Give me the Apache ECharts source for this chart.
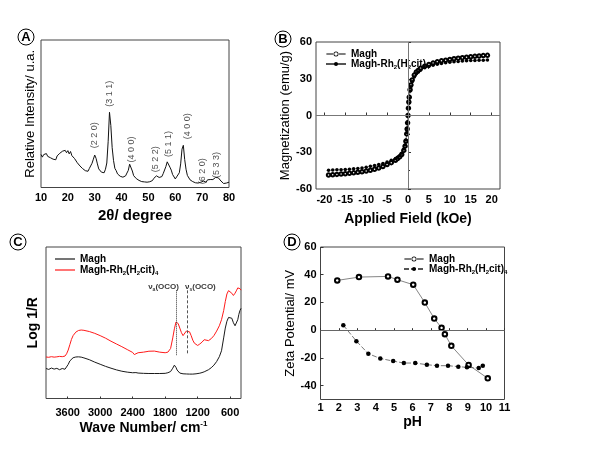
<!DOCTYPE html>
<html><head><meta charset="utf-8">
<script src="https://cdn.jsdelivr.net/npm/echarts@6/dist/echarts.min.js"></script>
<style>html,body{margin:0;padding:0;background:#fff}#c{width:600px;height:450px}</style>
</head><body><div id="c"></div><script>
// ---------- Panel A: XRD ----------
const xrdAngle = [10,10.5,11,11.5,12,12.5,13,13.5,14,14.5,15,15.5,16,16.5,17,17.5,18,18.5,19,19.5,20,20.5,21,21.5,22,22.5,23,23.5,24,24.5,25,25.5,26,26.5,27,27.5,28,28.5,29,29.5,30,30.5,31,31.5,32,32.5,33,33.5,34,34.5,35,35.5,36,36.5,37,37.5,38,38.5,39,39.5,40,40.5,41,41.5,42,42.5,43,43.5,44,44.5,45,45.5,46,46.5,47,47.5,48,48.5,49,49.5,50,50.5,51,51.5,52,52.5,53,53.5,54,54.5,55,55.5,56,56.5,57,57.5,58,58.5,59,59.5,60,60.5,61,61.5,62,62.5,63,63.5,64,64.5,65,65.5,66,66.5,67,67.5,68,68.5,69,69.5,70,70.5,71,71.5,72,72.5,73,73.5,74,74.5,75,75.5,76,76.5,77,77.5,78,78.5,79,79.5,80];
const xrdIntensity = [22.4,20.6,22.3,21.2,23,21.1,22.4,20.2,21.4,19.2,20.4,18.8,21.4,20.6,23.2,22,24.6,23.4,25.2,23.6,25,22.8,24.4,21.6,22.2,19.6,19.6,16.8,16.6,14.6,14.9,12.8,13.2,11.4,11.8,11,12.9,13.2,16.4,19.2,22,19.8,16,12.6,12.4,10.4,10.8,10,12.4,16.6,31,51,42,27,18.4,13,11.4,9.2,9.2,7.6,7.8,7,7.8,7.9,9.8,11.6,15.8,14.6,11.2,8,7.6,6,6,4.8,5.2,4,4.6,3.8,4.9,3.6,4.6,3.9,5.2,4.7,6.2,6.4,7.9,8.4,6.8,7.8,7.4,9.4,10.6,14.2,17.4,17.8,13.8,11.8,8.8,7.8,5.8,7.2,7,10,16,26,28.6,19,12.4,8.2,7,5.2,5.2,4,4.4,3.2,3.8,3,4.2,3.6,4.8,4.3,5,3.6,5.2,4.6,5.4,4.2,5.4,5.2,6.8,7.4,6.6,5.9,4.4,4.1,2.7,3.6,3,4.2,3.6,4.9,4.4,5.2];
const xrdPeakLabels = ['(2 2 0)','(3 1 1)','(4 0 0)','(5 2 2)','(5 1 1)','(4 0 0)','(6 2 0)','(5 3 3)'];
const xrdPeakPos = [30.0,35.6,43.7,52.5,57.3,64.7,70.0,75.3];
const xrdLabelY = [35.5,63.5,25.8,19.2,29.5,41.5,11,15.3];

// ---------- Panel B: magnetization ----------
const bField = [-19,-18,-17,-16,-15,-14,-13,-12,-11,-10,-9,-8,-7,-6,-5,-4,-3,-2.5,-2,-1.5,-1,-0.7,-0.5,-0.3,-0.2,-0.1,0,0.1,0.2,0.3,0.5,0.7,1,1.5,2,2.5,3,4,5,6,7,8,9,10,11,12,13,14,15,16,17,18,19];
const bMagh = [-48.6,-48.4,-48.1,-47.8,-47.5,-47.1,-46.8,-46.3,-45.9,-45.4,-44.7,-43.9,-42.9,-41.6,-40,-38.5,-36.5,-35.2,-33.8,-31.8,-28.5,-25,-21,-15,-11,-6,0,6,11,15,21,25,29,33,35.5,37,38.5,40.3,41.6,42.8,43.8,44.6,45.2,45.7,46.3,46.8,47.2,47.6,48,48.3,48.6,48.9,49.1];
const bRh = [-44.6,-44.5,-44.3,-44.2,-44,-43.8,-43.5,-43.2,-42.8,-42.2,-41.5,-40.8,-40,-39.1,-38,-36.5,-35,-34,-32.8,-30.8,-27.4,-24,-20,-14,-10.4,-5.5,0,5.5,10,14,20,23.5,27.5,31.5,34,35.5,37,39,40.1,41.1,41.9,42.5,43,43.4,43.8,44.1,44.4,44.6,44.8,45,45.1,45.2,45.3];
const bTicks = [-20,-15,-10,-5,0,5,10,15,20];

// ---------- Panel C: DRIFT spectra ----------
const cWave = [4000,3950,3900,3850,3800,3750,3700,3650,3620,3590,3560,3530,3500,3450,3400,3350,3300,3200,3100,3000,2900,2800,2700,2600,2500,2400,2370,2340,2300,2200,2100,2000,1900,1800,1750,1700,1660,1630,1600,1580,1560,1530,1500,1470,1440,1410,1380,1350,1320,1290,1260,1230,1200,1160,1120,1080,1050,1000,950,900,850,800,760,720,690,660,630,600,570,540,510,480,460,440,420,400];
const cMagh = [19.8,19.2,20.1,19.4,19.9,19.0,19.8,19.3,20.6,22.5,24.8,26.0,26.9,27.4,27.5,27.3,26.8,25.6,24.0,22.6,21.2,20.0,18.9,18.0,17.4,17.0,17.5,17.1,16.8,16.6,16.5,16.5,16.5,16.6,17.0,17.8,20.0,22.0,20.5,18.8,17.6,16.8,16.5,16.3,16.5,16.2,16.4,16.1,16.0,16.1,16.2,16.3,16.4,16.7,17.1,17.6,18.1,19.0,20.3,22.0,24.4,27.6,31.5,40.0,46.5,51.0,53.5,54.5,53.0,50.0,48.0,49.0,52.0,55.5,58.0,59.5];
const cMaghRh = [27.4,27.2,27.6,27.3,27.5,27.8,27.6,28.0,29.5,32.0,35.5,39.0,41.5,43.8,44.9,45.2,45.0,44.2,43.0,41.5,39.8,37.8,36.0,34.2,32.3,30.4,29.0,29.6,30.2,30.6,31.2,31.3,30.6,30.2,30.6,33.0,40.0,46.0,50.5,51.5,49.5,46.5,43.5,41.5,42.5,44.5,45.0,44.0,41.5,38.5,36.5,35.3,35.0,36.0,37.2,38.8,37.8,38.2,39.5,41.5,44.5,48.0,52.0,58.0,64.0,69.0,71.2,71.0,69.5,68.0,69.5,71.5,73.0,74.0,72.5,71.5];
const cTicks = [600,1200,1800,2400,3000,3600];
const cBandPos = [1590,1390];
const cBandText = ['ν{s|a}(OCO)','ν{s|s}(OCO)'];
const cBandTop = 71.4, cBandBottom = 28.6;
const cBandLabelPos = [1830,1150];
const cBandLabelY = 73.8;

// ---------- Panel D: zeta potential ----------
const dMaghPH = [1.91,3.09,4.67,5.18,6.04,6.67,7.18,7.58,7.76,8.11,9.05,10.09];
const dMaghZeta = [35.9,38.3,38.8,36.4,32.8,19.9,8.4,1.7,-2.9,-11.3,-25.1,-34.7];
const dRhPH = [2.24,2.95,3.6,4.25,4.95,5.53,6.15,6.78,7.33,7.93,8.49,8.96,9.6,9.82];
const dRhZeta = [3.6,-7.9,-17,-20.4,-22.3,-23.7,-23.7,-24.9,-25.6,-25.6,-26.3,-26.8,-27.3,-25.6];
const dYTicks = [-40,-20,0,20,40,60];

const legendNames = {
  B_Magh: '{n|Magh}', B_Rh: '{n|Magh-Rh}{s|2}{n|(H}{s|2}{n|cit)}{s|4}',
  C_Magh: '{n|Magh}', C_Rh: '{n|Magh-Rh}{s|2}{n|(H}{s|2}{n|cit)}{s|4}',
  D_Magh: '{n|Magh}', D_Rh: '{n|Magh-Rh}{s|2}{n|(H}{s|2}{n|cit)}{s|4}'
};

const FONT = 'Liberation Sans, Arial, sans-serif';
const zip = (a, b) => a.map((v, i) => [v, b[i]]);
const plain = v => String(v);

const tickLbl = (extra) => Object.assign({color:'#000', fontFamily: FONT, fontWeight:'bold', fontSize: 11, margin: 4, formatter: plain}, extra || {});
const nameStyle = (size, weight, extra) => Object.assign({color:'#000', fontFamily: FONT, fontSize: size, fontWeight: weight}, extra || {});
const tickIn = (extra) => Object.assign({show: true, inside: true, length: 3, lineStyle:{color:'#333'}}, extra || {});
const legendText = {color:'#000', fontFamily: FONT, fontWeight:'bold', fontSize: 10,
  rich: { n: {fontFamily: FONT, fontWeight:'bold', fontSize: 10, lineHeight: 13},
          s: {fontFamily: FONT, fontWeight:'bold', fontSize: 6, verticalAlign:'bottom', lineHeight: 13} }};
// legend icon: short line, open circle, short line
const openIcon = 'path://M0,2.6H6.9V3.4H0Z M13.1,2.6H20V3.4H13.1Z M12.6,3A2.6,2.6 0 1,0 7.4,3A2.6,2.6 0 1,0 12.6,3Z M11.8,3A1.8,1.8 0 1,1 8.2,3A1.8,1.8 0 1,1 11.8,3Z';
const openIconStyle = {color: '#000', borderWidth: 0, borderColor: 'transparent'};

const chart = echarts.init(document.getElementById('c'), null, {renderer:'canvas'});
const gridStyle = {show: true, borderColor: '#444', borderWidth: 1, backgroundColor: 'transparent', containLabel: false};

const option = {
  animation: false,
  backgroundColor: '#fff',
  grid: [
    Object.assign({left: 41, top: 40, width: 188, height: 147.5}, gridStyle),
    Object.assign({left: 316, top: 42, width: 184, height: 147}, gridStyle),
    Object.assign({left: 46, top: 247, width: 195, height: 151.5}, gridStyle),
    Object.assign({left: 320.5, top: 247, width: 184, height: 152.5}, gridStyle)
  ],
  xAxis: [
    {gridIndex: 0, type: 'value', min: 10, max: 80, interval: 10, axisLine:{show:false}, splitLine:{show:false},
     axisTick: {show: false}, axisLabel: tickLbl({margin: 5}),
     name: '2θ/ degree', nameLocation: 'middle', nameGap: 21, nameTextStyle: nameStyle(15, 'bold')},
    {gridIndex: 1, type: 'value', min: -22, max: 22, axisLine:{show:false}, splitLine:{show:false},
     axisTick: tickIn({customValues: bTicks}), axisLabel: tickLbl({customValues: bTicks, margin: 5}),
     name: 'Applied Field (kOe)', nameLocation: 'middle', nameGap: 23, nameTextStyle: nameStyle(14, 'bold')},
    {gridIndex: 2, type: 'value', min: 400, max: 4000, inverse: true, axisLine:{show:false}, splitLine:{show:false},
     axisTick: tickIn({customValues: cTicks, length: 2}), axisLabel: tickLbl({customValues: cTicks, margin: 9}),
     name: 'Wave Number/ cm{sup|-1}', nameLocation: 'middle', nameGap: 19,
     nameTextStyle: nameStyle(14, 'bold', {rich: {sup: {fontFamily: FONT, fontWeight:'bold', fontSize: 8, verticalAlign:'top', lineHeight: 18}}})},
    {gridIndex: 3, type: 'value', min: 1, max: 11, interval: 1, axisLine:{show:false}, splitLine:{show:false},
     axisTick: tickIn({length: 2}), axisLabel: tickLbl({margin: 3}),
     name: 'pH', nameLocation: 'middle', nameGap: 16, nameTextStyle: nameStyle(14, 'bold')}
  ],
  yAxis: [
    {gridIndex: 0, type: 'value', min: 0, max: 100, axisLine:{show:false}, splitLine:{show:false},
     axisTick:{show:false}, axisLabel:{show:false},
     name: 'Relative Intensity/ u.a.', nameLocation: 'middle', nameRotate: 90, nameGap: 4, nameTextStyle: nameStyle(13, 'normal')},
    {gridIndex: 1, type: 'value', min: -60, max: 60, interval: 30, axisLine:{show:false}, splitLine:{show:false},
     axisTick: tickIn(), minorTick: {show: true, splitNumber: 2, length: 2, lineStyle:{color:'#333'}}, axisLabel: tickLbl({margin: 4}),
     name: 'Magnetization (emu/g)', nameLocation: 'middle', nameRotate: 90, nameGap: 19, nameTextStyle: nameStyle(13, 'normal')},
    {gridIndex: 2, type: 'value', min: 0, max: 100, axisLine:{show:false}, splitLine:{show:false},
     axisTick:{show:false}, axisLabel:{show:false},
     name: 'Log 1/R', nameLocation: 'middle', nameRotate: 90, nameGap: 6, nameTextStyle: nameStyle(14, 'bold')},
    {gridIndex: 3, type: 'value', min: -50, max: 60, axisLine:{show:false}, splitLine:{show:false},
     axisTick: tickIn({customValues: dYTicks}), axisLabel: tickLbl({customValues: dYTicks, margin: 4}),
     name: 'Zeta Potential/ mV', nameLocation: 'middle', nameRotate: 90, nameGap: 23, nameTextStyle: nameStyle(13, 'normal')}
  ],
  legend: [
    {data: [{name: 'B_Magh', icon: openIcon, itemStyle: openIconStyle}, 'B_Rh'], orient: 'vertical', left: 320, top: 44, itemWidth: 20, itemHeight: 5, itemGap: 0,
     formatter: n => legendNames[n], textStyle: legendText, selectedMode: false},
    {data: ['C_Magh','C_Rh'], orient: 'vertical', left: 50, top: 249, itemWidth: 20, itemHeight: 1.2, itemGap: 1, icon: 'rect',
     formatter: n => legendNames[n], textStyle: legendText, selectedMode: false},
    {data: [{name: 'D_Magh', icon: openIcon, itemStyle: openIconStyle}, 'D_Rh'], orient: 'vertical', left: 398, top: 249, itemWidth: 20, itemHeight: 5, itemGap: 0,
     formatter: n => legendNames[n], textStyle: legendText, selectedMode: false}
  ],
  series: [
    {name: 'xrd', type: 'line', xAxisIndex: 0, yAxisIndex: 0, data: zip(xrdAngle, xrdIntensity),
     showSymbol: false, symbol: 'none', lineStyle: {color: '#111', width: 1}, silent: true},
    {name: 'xrdLabels', type: 'scatter', xAxisIndex: 0, yAxisIndex: 0, symbolSize: 0, silent: true, clip: false, z: 5,
     data: xrdPeakPos.map((x, i) => ({value: [x, xrdLabelY[i]], name: xrdPeakLabels[i]})),
     label: {show: true, position: 'inside', formatter: '{b}', rotate: 90, color: '#222', fontFamily: FONT, fontSize: 9}},

    {name: 'B_Magh', type: 'line', xAxisIndex: 1, yAxisIndex: 1, data: zip(bField, bMagh),
     symbol: 'emptyCircle', symbolSize: 3.5, lineStyle: {color: '#555', width: 0.5},
     itemStyle: {color: '#000', borderColor: '#000', borderWidth: 0.7},
     markLine: {silent: true, symbol: 'none', label: {show: false}, lineStyle: {color: '#777', type: 'solid', width: 1},
       data: [{yAxis: 0}, {xAxis: 0}]}},
    {name: 'B_Rh', type: 'line', xAxisIndex: 1, yAxisIndex: 1, data: zip(bField, bRh),
     symbol: 'circle', symbolSize: 3.5, lineStyle: {color: '#555', width: 0.5},
     itemStyle: {color: '#000'}},

    {name: 'C_Magh', type: 'line', xAxisIndex: 2, yAxisIndex: 2, data: zip(cWave, cMagh),
     symbol: 'none', lineStyle: {color: '#1a1a1a', width: 1}, itemStyle: {color: '#1a1a1a'}},
    {name: 'C_Rh', type: 'line', xAxisIndex: 2, yAxisIndex: 2, data: zip(cWave, cMaghRh),
     symbol: 'none', lineStyle: {color: '#ff1a1a', width: 1}, itemStyle: {color: '#ff1a1a'},
     markLine: {silent: true, symbol: 'none', label: {show: false},
       data: [
         [{coord: [cBandPos[0], cBandTop], lineStyle: {type: 'dotted', color: '#333', width: 1}}, {coord: [cBandPos[0], cBandBottom]}],
         [{coord: [cBandPos[1], cBandTop], lineStyle: {type: [3, 2], color: '#555', width: 1}}, {coord: [cBandPos[1], cBandBottom]}]
       ]}},
    {name: 'cLabels', type: 'scatter', xAxisIndex: 2, yAxisIndex: 2, symbolSize: 0, silent: true,
     data: cBandLabelPos.map((x, i) => ({value: [x, cBandLabelY], name: cBandText[i]})),
     label: {show: true, position: 'inside', formatter: '{b}', color: '#000', fontFamily: FONT, fontWeight: 'bold', fontSize: 8,
       rich: {s: {fontFamily: FONT, fontWeight: 'bold', fontSize: 5, verticalAlign: 'bottom', lineHeight: 11}}}},

    {name: 'D_Magh', type: 'line', xAxisIndex: 3, yAxisIndex: 3, data: zip(dMaghPH, dMaghZeta),
     symbol: 'emptyCircle', symbolSize: 4.5, lineStyle: {color: '#666', width: 0.8},
     itemStyle: {color: '#000', borderColor: '#000', borderWidth: 0.8},
     markLine: {silent: true, symbol: 'none', label: {show: false}, lineStyle: {color: '#666', type: 'solid', width: 1},
       data: [{yAxis: 0}]}},
    {name: 'D_Rh', type: 'line', xAxisIndex: 3, yAxisIndex: 3, data: zip(dRhPH, dRhZeta),
     symbol: 'circle', symbolSize: 4.5, lineStyle: {color: '#555', width: 0.8, type: [5, 2]},
     itemStyle: {color: '#000'}}
  ],
  graphic: [
    ['A', 26, 37], ['B', 283, 39], ['C', 18, 242], ['D', 292, 242]
  ].map(([t, x, y]) => ({
    type: 'group', x: x, y: y, silent: true,
    children: [
      {type: 'circle', shape: {cx: 0, cy: 0, r: 8}, style: {fill: '#fff', stroke: '#000', lineWidth: 1}},
      {type: 'text', x: 0, y: 0.5, style: {text: t, align: 'center', verticalAlign: 'middle', fill: '#000', font: 'bold 13px ' + FONT}}
    ]
  }))
};
chart.setOption(option);
</script></body></html>
